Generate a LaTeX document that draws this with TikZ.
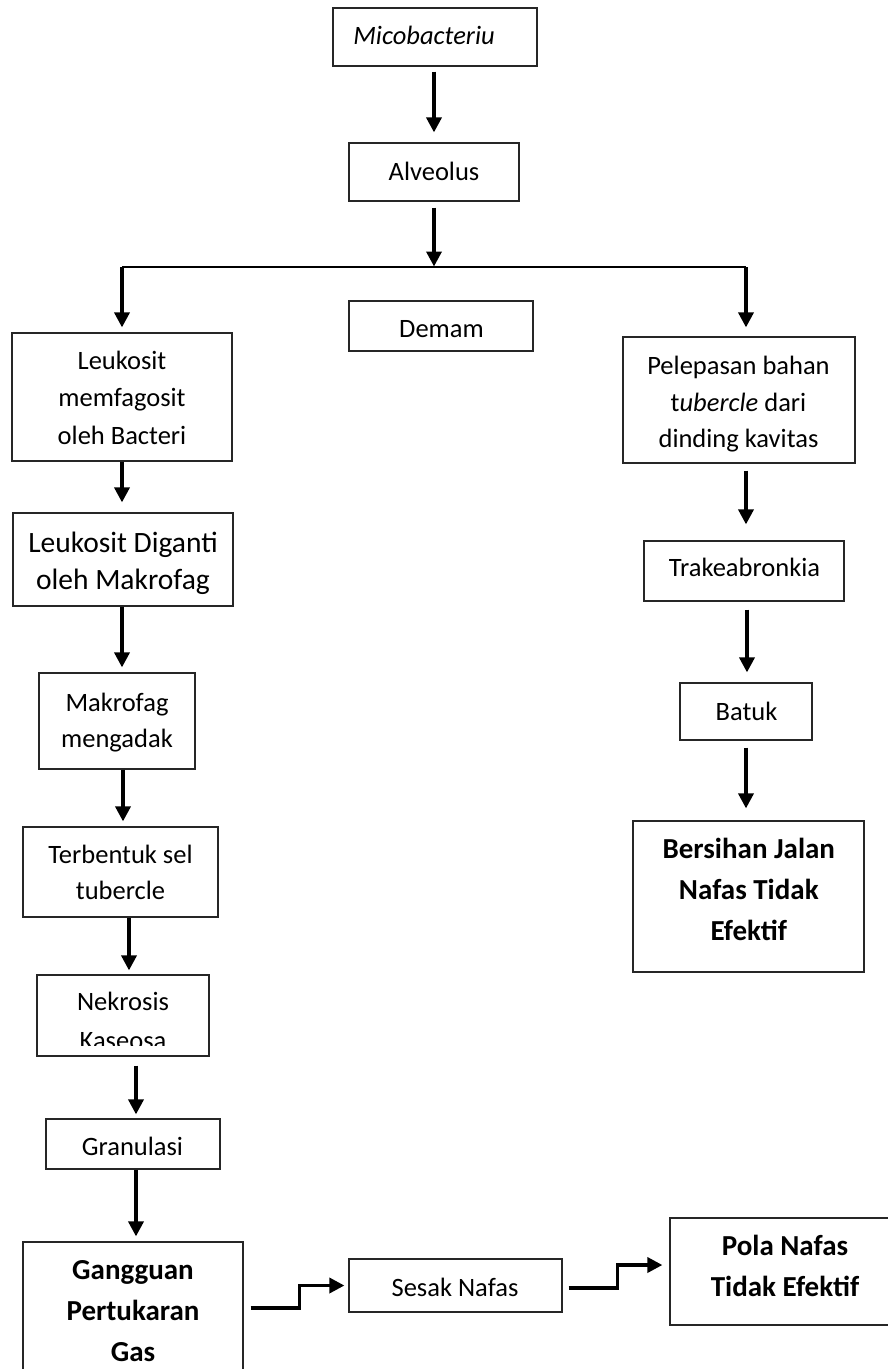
\documentclass[tikz,border=0pt]{standalone}
\usepackage{fontspec}
\setmainfont{Carlito}
\usetikzlibrary{arrows.meta,calc}
\begin{document}
\begin{tikzpicture}[x=1pt,y=-1pt,
  box/.style={draw=black!85, line width=1.2pt, inner sep=0pt, rectangle},
  txt/.style={align=center, inner sep=0pt, font=\fontsize{26.5}{36.5}\selectfont},
  btxt/.style={align=center, inner sep=0pt, font=\fontsize{29}{41}\selectfont\bfseries},
  arr/.style={line width=3.5pt, -{Triangle[length=15pt,width=15pt]}, line join=miter},
  branch/.style={line width=1.6pt}]
\useasboundingbox (0,0) rectangle (888,1369);
\clip (0,0) rectangle (888,1369);

% boxes
\node[box, minimum width=204, minimum height=58] (mico) at (435,37) {};
\node[box, minimum width=170, minimum height=58] (alv) at (434,172) {};
\node[box, minimum width=184, minimum height=50] (demam) at (441,326) {};
\node[box, minimum width=220, minimum height=128] (leuk) at (122,397) {};
\node[box, minimum width=220, minimum height=93] (digan) at (123,559.5) {};
\node[box, minimum width=156, minimum height=96] (makro) at (117,721) {};
\node[box, minimum width=195, minimum height=90] (terb) at (120.5,872) {};
\node[box, minimum width=172, minimum height=81] (nekro) at (123,1015.5) {};
\node[box, minimum width=174, minimum height=50] (gran) at (133,1144) {};
\node[box, minimum width=220, minimum height=139] (gang) at (133,1311.5) {};
\node[box, minimum width=213, minimum height=53] (sesak) at (455.5,1285.5) {};
\node[box, minimum width=230, minimum height=107] (pola) at (785,1271.5) {};
\node[box, minimum width=232, minimum height=126] (pelep) at (739,400) {};
\node[box, minimum width=200, minimum height=60] (trak) at (744,571) {};
\node[box, minimum width=132, minimum height=57] (batuk) at (746,711.5) {};
\node[box, minimum width=231, minimum height=151] (bers) at (748.5,896.5) {};

% texts
\node[txt] (mico-t) at (424,34.9) {\itshape Micobacteriu};
\node[txt] (alv-t) at (434,170.9) {Alveolus};
\node[txt] (demam-t) at (441.5,328.8) {Demam};
\node[txt, font=\fontsize{26.5}{37.5}\selectfont] (leuk-t) at (122,397.4) {Leukosit\\memfagosit\\oleh Bacteri};
\node[txt, font=\fontsize{29.5}{37.5}\selectfont] (digan-t) at (123,563.2) {Leukosit Diganti\\oleh Makrofag};
\node[txt] (makro-t) at (117,722.5) {Makrofag\\mengadak};
\node[txt] (terb-t) at (120.5,872.4) {Terbentuk sel\\tubercle};
\begin{scope}
  \clip (37,975) rectangle (209,1045.5);
  \node[txt, font=\fontsize{26.5}{39}\selectfont] (nekro-t) at (123,1020.9) {Nekrosis\\Kaseosa};
\end{scope}
\node[txt] (gran-t) at (132.5,1145.9) {Granulasi};
\node[btxt] (gang-t) at (133,1311) {Gangguan\\Pertukaran\\Gas};
\node[txt] (sesak-t) at (455,1286.9) {Sesak Nafas};
\node[btxt] (pola-t) at (785,1265.5) {Pola Nafas\\Tidak Efektif};
\node[txt] (pelep-t) at (738.5,404.1) {Pelepasan bahan\\t\textit{ubercle} dari\\dinding kavitas};
\node[txt] (trak-t) at (744.5,567.6) {Trakeabronkia};
\node[txt] (batuk-t) at (746.5,710.9) {Batuk};
\node[btxt] (bers-t) at (748.8,889) {Bersihan Jalan\\Nafas Tidak\\Efektif};

% branch
\coordinate (bl) at (122,267);
\coordinate (bm) at (434,267);
\coordinate (br) at (746,267);
\draw[branch] (bl) -- (br);

% connectors
\draw[arr] ($(mico.south)+(-1,5)$) -- ($(alv.north)+(0,-10)$);
\draw[arr] ($(alv.south)+(0,6)$) -- ($(bm)+(0,-0.5)$);
\draw[arr] (bl) -- ($(leuk.north)+(0,-5)$);
\draw[arr] (br) -- ($(pelep.north)+(7,-9)$);

\draw[arr] (leuk.south) -- ($(digan.north)+(-1,-10)$);
\draw[arr] ($(digan.south)+(-1,0)$) -- ($(makro.north)+(5,-5)$);
\draw[arr] ($(makro.south)+(6,0)$) -- ($(terb.north)+(2.5,-5)$);
\draw[arr] ($(terb.south)+(8.5,0)$) -- ($(nekro.north)+(6,-4)$);
\draw[arr] ($(nekro.south)+(13,9)$) -- ($(gran.north)+(3,-4)$);
\draw[arr] ($(gran.south)+(3,0)$) -- ($(gang.north)+(3,-5)$);

\draw[arr] ($(pelep.south)+(7,7)$) -- ($(trak.north)+(2,-16)$);
\draw[arr] ($(trak.south)+(3,8)$) -- ($(batuk.north)+(1,-10)$);
\draw[arr] ($(batuk.south)+(0,7)$) -- ($(bers.north)+(-2.5,-12)$);

\draw[arr] ($(gang.east)+(7,-3.5)$) -- ++(49,0) |- ($(sesak.west)+(-4,0)$);
\draw[arr] ($(sesak.east)+(6,2.5)$) -- ++(49,0) |- ($(pola.west)+(-7,-6.5)$);
\end{tikzpicture}
\end{document}
